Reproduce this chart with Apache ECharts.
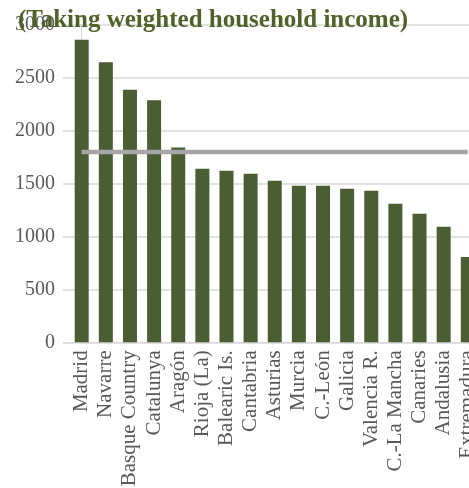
<!DOCTYPE html>
<html>
<head>
<meta charset="utf-8">
<script src="https://cdn.jsdelivr.net/npm/echarts@6/dist/echarts.min.js"></script>
<style>html,body{margin:0;padding:0;background:#fff}#c{width:469px;height:488px}</style>
</head>
<body>
<div id="c"></div>
<script>
const titleText = '(Taking weighted household income)';
const categories = ['Madrid','Navarre','Basque Country','Catalunya','Aragón','Rioja (La)','Balearic Is.','Cantabria','Asturias','Murcia','C.-León','Galicia','Valencia R.','C.-La Mancha','Canaries','Andalusia','Extremadura'];
const incomeValues = [2857, 2643, 2385, 2284, 1839, 1638, 1619, 1591, 1525, 1477, 1477, 1449, 1430, 1307, 1213, 1090, 806];
const averageValues = [1796, 1796, 1796, 1796, 1796, 1796, 1796, 1796, 1796, 1796, 1796, 1796, 1796, 1796, 1796, 1796, 1796];
const yTicks = [0, 500, 1000, 1500, 2000, 2500, 3000];

const chart = echarts.init(document.getElementById('c'), null, {renderer: 'canvas'});
const serif = '"Liberation Serif", "Times New Roman", serif';
function catLabel(v) {
  const r = Math.round(v);
  if (Math.abs(v - r) > 1e-4) return '';
  return categories[r] !== undefined ? categories[r] : '';
}
chart.setOption({
  animation: false,
  title: {
    text: titleText, left: 13, top: 3,
    textStyle: {fontFamily: serif, fontSize: 25, fontWeight: 'bold', color: '#4f6228'}
  },
  grid: {left: 63, right: 0, top: 24.5, bottom: 145.7, containLabel: false, outerBoundsMode: 'none'},
  xAxis: {
    type: 'value', min: -0.775, max: 16.05, interval: 0.025,
    splitLine: {show: false},
    axisTick: {show: false},
    axisLine: {show: true, onZero: false, lineStyle: {color: '#d9d9d9', width: 1}},
    axisLabel: {
      show: true, rotate: 90, margin: 8, hideOverlap: false,
      fontFamily: serif, fontSize: 21, color: '#595959',
      formatter: catLabel
    }
  },
  yAxis: {
    type: 'value', min: yTicks[0], max: yTicks[yTicks.length - 1], interval: 500,
    axisLine: {show: true, lineStyle: {color: '#d9d9d9', width: 1}},
    axisTick: {show: false},
    splitLine: {show: true, lineStyle: {color: '#d9d9d9', width: 1.5}},
    axisLabel: {margin: 8, fontFamily: serif, fontSize: 20, color: '#595959', formatter: v => String(v)}
  },
  series: [
    {
      type: 'bar', barWidth: 14,
      itemStyle: {color: '#4a5d33'},
      data: incomeValues.map((v, i) => [i, v])
    },
    {
      type: 'line', symbol: 'none', z: 5,
      lineStyle: {color: '#a6a6a6', width: 4.5},
      data: averageValues.map((v, i) => [i, v])
    }
  ]
});
</script>
</body>
</html>
